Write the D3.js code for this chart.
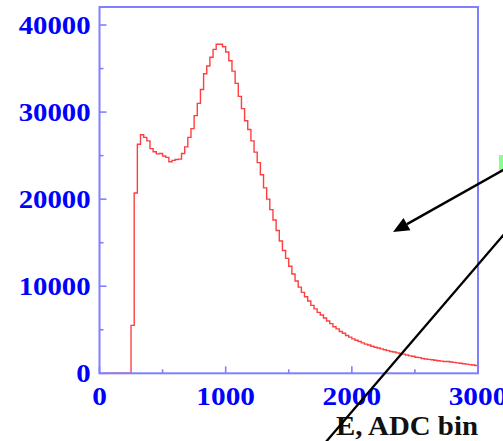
<!DOCTYPE html>
<html>
<head>
<meta charset="utf-8">
<script src="https://cdn.jsdelivr.net/npm/d3@7"></script>
<style>
  html, body { margin: 0; padding: 0; background: #ffffff; }
  svg { display: block; }
</style>
</head>
<body>
<svg id="chart" width="503" height="441"></svg>
<script>
// ---- data ----
const firstBinStart = 50;   // ADC
const binWidth = 25;        // ADC
const counts = [
  0, 0, 0, 0, 0, 0, 0, 0,
  5500, 20700, 26300, 27400, 27100, 26700, 25800, 25450, 25200, 25250,
  24950, 24800, 24300, 24450, 24550, 24600, 25250, 26000, 27100, 28100,
  29600, 31000, 32600, 34400, 35300, 36300, 37200, 37800, 37800, 37500,
  36900, 35900, 34700, 33300, 31800, 30400, 29000, 28000, 26700, 25400,
  24200, 22800, 21300, 20000, 18800, 17600, 16400, 15200, 14100, 13200,
  12300, 11400, 10600, 9900, 9300, 8800, 8300, 7800, 7400, 7000,
  6700, 6350, 6000, 5700, 5350, 5100, 4800, 4600, 4350, 4150,
  3950, 3800, 3650, 3500, 3350, 3250, 3100, 3000, 2900, 2800,
  2700, 2600, 2500, 2450, 2350, 2280, 2200, 2100, 2000, 1950,
  1850, 1800, 1700, 1650, 1600, 1550, 1500, 1450, 1400, 1350,
  1350, 1300, 1250, 1200, 1150, 1100, 1050, 1000, 950, 900
];
const xMajorTicks = [0, 1000, 2000, 3000];
const xMinorTicks = [500, 1500, 2500];
const yMajorTicks = [0, 10000, 20000, 30000, 40000];
const yMinorTicks = [5000, 15000, 25000, 35000];
const xDomain = [0, 3000];
const yDomain = [0, 42070];
const xTitle = "E, ADC bin";

// ---- layout ----
const svg = d3.select("#chart");
const pLeft = 99.5, pRight = 478, pTop = 7, pBottom = 373.3;
const x = d3.scaleLinear().domain(xDomain).range([pLeft, pRight]);
const y = d3.scaleLinear().domain(yDomain).range([pBottom, pTop]);

const frameColor = "#8080ff";
const labelColor = "#0000ff";

// histogram
const pts = counts.map((c, i) => [firstBinStart + i * binWidth, c]);
pts.push([firstBinStart + counts.length * binWidth, counts[counts.length - 1]]);
const line = d3.line().x(d => x(d[0])).y(d => y(d[1])).curve(d3.curveStepAfter);
svg.append("path")
  .attr("d", line(pts))
  .attr("fill", "none")
  .attr("stroke", "#ff2a2a")
  .attr("stroke-width", 1.4)
  .attr("stroke-opacity", 0.9);

// frame
svg.append("rect")
  .attr("x", pLeft).attr("y", pTop)
  .attr("width", pRight - pLeft).attr("height", pBottom - pTop)
  .attr("fill", "none")
  .attr("stroke", frameColor)
  .attr("stroke-width", 2);

// ticks (inward)
const tickG = svg.append("g").attr("stroke", frameColor).attr("stroke-width", 1.6);
yMajorTicks.forEach(v => tickG.append("line").attr("x1", pLeft).attr("x2", pLeft + 7).attr("y1", y(v)).attr("y2", y(v)));
yMinorTicks.forEach(v => tickG.append("line").attr("x1", pLeft).attr("x2", pLeft + 4).attr("y1", y(v)).attr("y2", y(v)));
xMajorTicks.forEach(v => tickG.append("line").attr("x1", x(v)).attr("x2", x(v)).attr("y1", pBottom).attr("y2", pBottom - 7));
xMinorTicks.forEach(v => tickG.append("line").attr("x1", x(v)).attr("x2", x(v)).attr("y1", pBottom).attr("y2", pBottom - 4));

// tick labels
const fontFam = "'Liberation Serif', 'Times New Roman', serif";
yMajorTicks.forEach(v => {
  svg.append("g").attr("transform", `translate(${pLeft - 9},${y(v) + 9}) scale(1.15,1)`)
    .append("text")
    .attr("text-anchor", "end")
    .attr("font-family", fontFam).attr("font-weight", "bold").attr("font-size", 25)
    .attr("fill", labelColor)
    .text(v);
});
xMajorTicks.forEach(v => {
  svg.append("g").attr("transform", `translate(${x(v)},${404.5}) scale(1.15,1)`)
    .append("text")
    .attr("text-anchor", "middle")
    .attr("font-family", fontFam).attr("font-weight", "bold").attr("font-size", 25.5)
    .attr("fill", labelColor)
    .text(v);
});

// axis title
svg.append("g").attr("transform", `translate(478,435) scale(1.05,1)`)
  .append("text")
  .attr("text-anchor", "end")
  .attr("font-family", fontFam).attr("font-weight", "bold").attr("font-size", 27.5)
  .attr("fill", "#111")
  .text(xTitle);

// slide decorations: green marker and black arrows
svg.append("rect").attr("x", 499).attr("y", 155).attr("width", 6).attr("height", 16).attr("fill", "#88ff88");
const tip = [393, 232], from = [505, 169];
const ang = Math.atan2(tip[1] - from[1], tip[0] - from[0]);
const headLen = 16, headHalf = 7;
const base = [tip[0] - headLen * Math.cos(ang), tip[1] - headLen * Math.sin(ang)];
svg.append("line").attr("x1", from[0]).attr("y1", from[1]).attr("x2", base[0]).attr("y2", base[1])
  .attr("stroke", "#000").attr("stroke-width", 2.4);
svg.append("polygon")
  .attr("points", [
    tip,
    [base[0] + headHalf * Math.sin(ang), base[1] - headHalf * Math.cos(ang)],
    [base[0] - headHalf * Math.sin(ang), base[1] + headHalf * Math.cos(ang)]
  ].map(p => p.join(",")).join(" "))
  .attr("fill", "#000");
svg.append("line").attr("x1", 506).attr("y1", 232).attr("x2", 325).attr("y2", 443)
  .attr("stroke", "#000").attr("stroke-width", 2.3);
</script>
</body>
</html>
